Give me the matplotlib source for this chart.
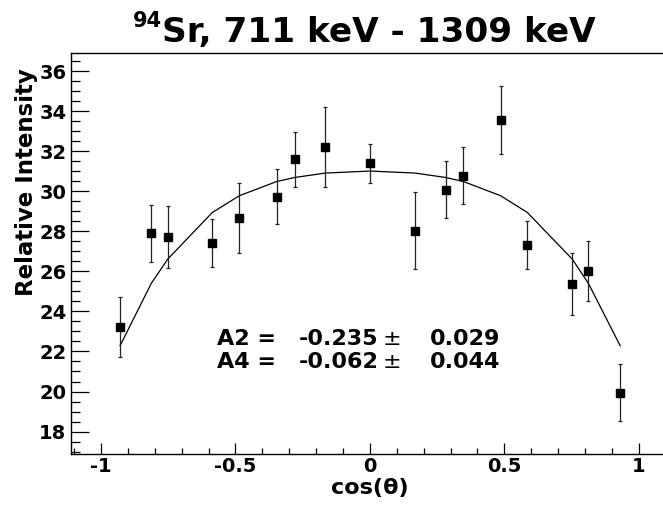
import matplotlib
matplotlib.use("Agg")
import matplotlib.pyplot as plt
from matplotlib.ticker import FixedLocator, MultipleLocator, FixedFormatter

W, H = 663, 505

# data
cos_theta = [-0.929, -0.813, -0.752, -0.586, -0.485, -0.346, -0.279, -0.165, 0.0,
             0.1675, 0.2816, 0.3474, 0.486, 0.586, 0.753, 0.813, 0.931]
intensity = [23.22, 27.9, 27.7, 27.4, 28.67, 29.73, 31.6, 32.22, 31.4,
             28.03, 30.08, 30.77, 33.58, 27.33, 25.37, 26.03, 19.95]
intensity_err = [1.5, 1.43, 1.55, 1.2, 1.75, 1.38, 1.37, 2.0, 0.97,
                 1.92, 1.43, 1.43, 1.7, 1.2, 1.55, 1.5, 1.42]
fit_values = [22.29, 25.40, 26.61, 28.94, 29.78, 30.49, 30.69, 30.91, 31.01,
              30.91, 30.69, 30.49, 29.78, 28.94, 26.61, 25.40, 22.29]

x_ticks = [-1, -0.5, 0, 0.5, 1]
x_ticklabels = ["-1", "-0.5", "0", "0.5", "1"]
y_ticks = [18, 20, 22, 24, 26, 28, 30, 32, 34, 36]
y_ticklabels = ["18", "20", "22", "24", "26", "28", "30", "32", "34", "36"]

FONT = "DejaVu Sans"

fig = plt.figure(figsize=(W / 100, H / 100), dpi=100)
fig.patch.set_facecolor("white")

def fx(x):
    return x / W

def fy(y):
    return 1 - y / H

left, right, top, bottom = 70.5, 669.2, 52.7, 454.0
ax = fig.add_axes([fx(left), fy(bottom), (right - left) / W, (bottom - top) / H])
ax.set_xlim(-1.1135, 1.1135)
ax.set_ylim(16.88, 36.92)

ax.plot(cos_theta, fit_values, color="black", lw=0.9, zorder=2)
ax.errorbar(cos_theta, intensity, yerr=intensity_err, fmt="s", color="black",
            ms=5.8, mec="black", mfc="black", ecolor="#222222", elinewidth=0.9,
            capsize=1.5, capthick=0.9, zorder=3)

for s in ax.spines.values():
    s.set_linewidth(1.0)
    s.set_color("black")

ax.xaxis.set_major_locator(FixedLocator(x_ticks))
ax.xaxis.set_major_formatter(FixedFormatter(x_ticklabels))
ax.xaxis.set_minor_locator(MultipleLocator(0.1))
ax.yaxis.set_major_locator(FixedLocator(y_ticks))
ax.yaxis.set_major_formatter(FixedFormatter(y_ticklabels))
ax.yaxis.set_minor_locator(MultipleLocator(0.5))

ax.tick_params(axis="x", which="major", direction="in", length=8, width=0.9, pad=2)
ax.tick_params(axis="x", which="minor", direction="in", length=4, width=0.9)
ax.tick_params(axis="y", which="major", direction="in", length=13, width=0.9, pad=3)
ax.tick_params(axis="y", which="minor", direction="in", length=6.5, width=0.9)
ax.tick_params(top=False, right=False, which="both")
for lab in ax.get_xticklabels() + ax.get_yticklabels():
    lab.set_fontfamily(FONT)
    lab.set_fontweight("bold")
    lab.set_fontsize(14)

# title
fig.text(fx(161.7), fy(42), "Sr, 711 keV - 1309 keV", family=FONT, weight="bold",
         fontsize=24.7, ha="left", va="baseline")
fig.text(fx(133), fy(27), "94", family=FONT, weight="bold",
         fontsize=15, ha="left", va="baseline")

# axis titles
fig.text(fx(370), fy(494), "cos(θ)", family=FONT, weight="bold",
         fontsize=16, ha="center", va="baseline")
fig.text(fx(27), fy(68), "Relative Intensity", family=FONT, weight="bold",
         fontsize=16.5, ha="center", va="top", rotation=90)

# fit results
rows = [("A2 =", "-0.235", "0.029", 345), ("A4 =", "-0.062", "0.044", 368)]
for name, val, err, base in rows:
    fig.text(fx(217), fy(base), name, family=FONT, weight="bold", fontsize=16,
             ha="left", va="baseline")
    fig.text(fx(299), fy(base), val, family=FONT, weight="bold", fontsize=16,
             ha="left", va="baseline")
    fig.text(fx(383), fy(base), "±", family=FONT, weight="normal", fontsize=16,
             ha="left", va="baseline")
    fig.text(fx(430), fy(base), err, family=FONT, weight="bold", fontsize=16,
             ha="left", va="baseline")

fig.savefig("out.png", dpi=100, facecolor="white")
